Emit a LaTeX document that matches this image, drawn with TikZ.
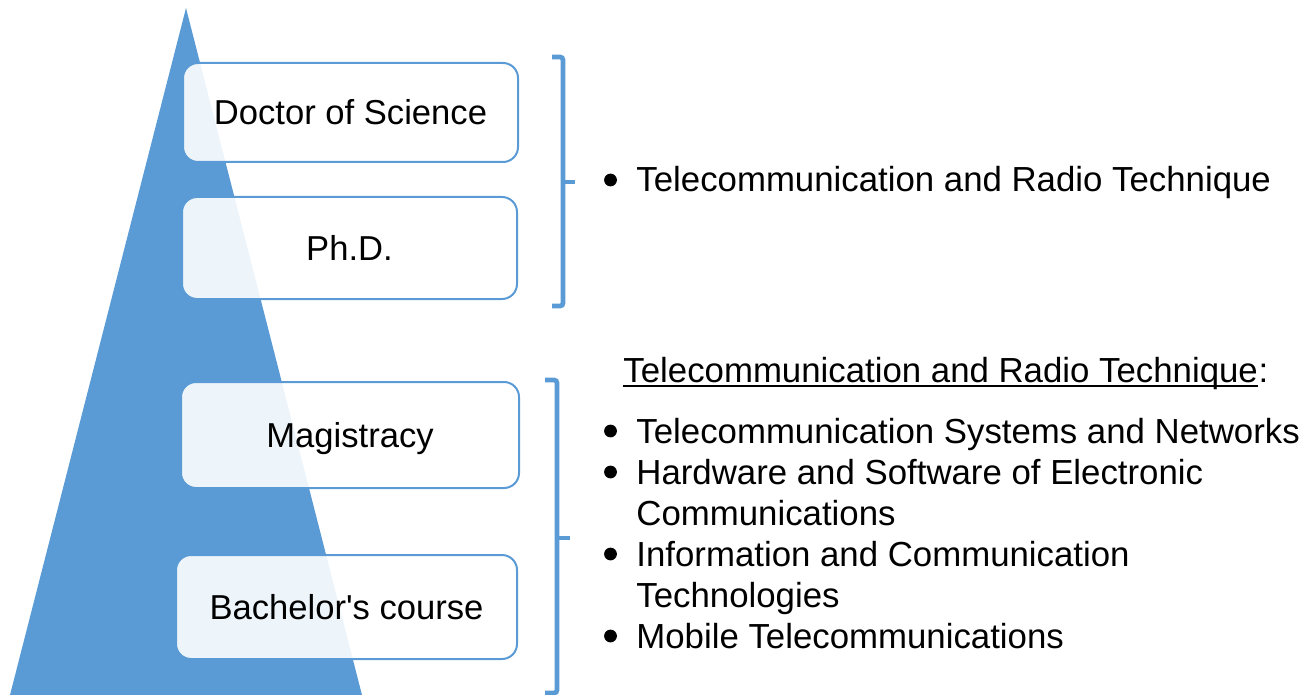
\documentclass[tikz,border=0pt]{standalone}
\usepackage{fontspec}
\setmainfont{Liberation Sans}
\usetikzlibrary{positioning}
\definecolor{pyramid}{HTML}{5B9BD5}
\tikzstyle{level} = [rectangle, rounded corners=7.5pt, draw=pyramid, line width=1pt, fill=white, fill opacity=0.9, text opacity=1, text height=12.4pt, text depth=0pt, font=\fontsize{17.3}{20.5}\selectfont]
\tikzstyle{item} = [anchor=base west, inner sep=0pt, font=\fontsize{17.4}{20.5}\selectfont]
\tikzstyle{dot} = [circle, fill=black, inner sep=0pt, minimum size=6.4pt]
\tikzstyle{brace} = [pyramid, line width=2.4pt, rounded corners=1.5pt]

\begin{document}
\begin{tikzpicture}[x=0.5pt,y=-0.5pt]
	\useasboundingbox (0,0) rectangle (1316,695);
	\fill[pyramid] (186,8) -- (362,695) -- (10,695) -- cycle;
	\node[level, minimum width=167.5pt, minimum height=49.5pt] (doctor) at (350.5,112.5) {Doctor of Science};
	\node[level, minimum width=167.5pt, minimum height=51pt] (phd) at (349.5,248) {Ph.D.};
	\node[level, minimum width=169pt, minimum height=53pt] (magistracy) at (350,435) {Magistracy};
	\node[level, minimum width=170.5pt, minimum height=52pt] (bachelor) at (346.5,607) {Bachelor\textquotesingle s course};
	% braces
	\draw[brace] (552,57) -- (563,57) -- (563,306) -- (552,306);
	\draw[brace] (563,182) -- (575,182);
	\draw[brace] (545,380) -- (557,380) -- (557,693) -- (545,693);
	\draw[brace] (557,538) -- (570,538);
	% upper list
	\node[dot] (dot0) at (610.5,180) {};
	\node[item] (top) at (636,192) {Telecommunication and Radio Technique};
	% lower list
	\node[item] (head) at (623,382) {Telecommunication and Radio Technique};
	\node[item] (colon) at (head.base east) {:};
	\draw[line width=1pt] ([yshift=-2pt]head.base west) -- ([yshift=-2pt]head.base east);
	\node[item] (sys) at (636,443) {Telecommunication Systems and Networks};
	\node[item] (hw) at (636,484) {Hardware and Software of Electronic};
	\node[item] (hw2) at (636,525) {Communications};
	\node[item] (ict) at (636,566) {Information and Communication};
	\node[item] (ict2) at (636,607) {Technologies};
	\node[item] (mob) at (636,648) {Mobile Telecommunications};
	\foreach \y in {431,472,554,636}
	\node[dot] (dot\y) at (610.5,\y) {};
\end{tikzpicture}
\end{document}
